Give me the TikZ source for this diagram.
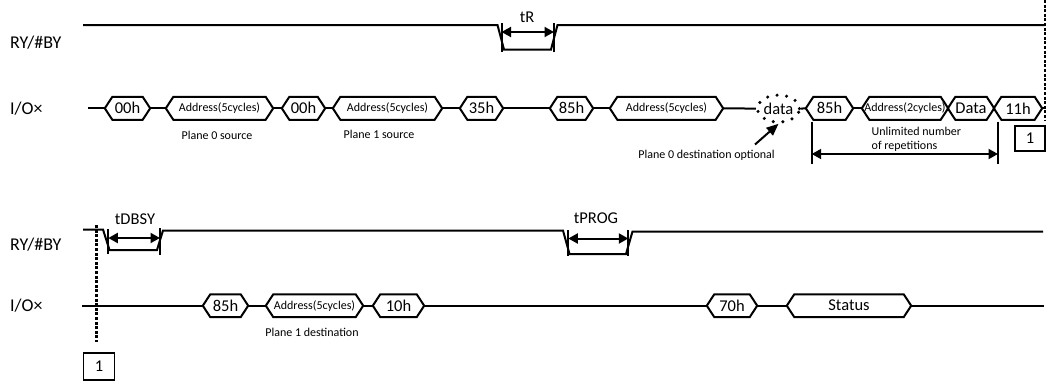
\documentclass[tikz,border=0pt]{standalone}
\usepackage{fontspec}
\setmainfont{Carlito}
\usetikzlibrary{arrows.meta,shapes.geometric}
\newcommand\hexnode[6]{% name, x1, x2, y, fontcmd, text
  \node[hexlbl, font=#5, minimum width={(#3-#2)*1pt}] (#1) at ({(#2+#3)/2},#4) {#6};
  \draw[sig] (#1.west) -- ([xshift=\hextip]#1.north west) -- ([xshift=-\hextip]#1.north east)
    -- (#1.east) -- ([xshift=-\hextip]#1.south east) -- ([xshift=\hextip]#1.south west) -- cycle;}
\newcommand\hextip{7.5pt}
\newcommand\fbig{\fontsize{18}{21}\selectfont}
\newcommand\fmid{\fontsize{16.5}{19}\selectfont}
\newcommand\fsmall{\fontsize{12}{14.5}\selectfont}
\begin{document}
\begin{tikzpicture}[x=1pt,y=-1pt,
  sig/.style={line width=2pt, line join=miter},
  hexlbl/.style={inner sep=0pt, minimum height=22.5pt, anchor=center},
  tick/.style={line width=2pt},
  dim/.style={line width=2pt, {Triangle[length=9.5pt,width=10pt]}-{Triangle[length=9.5pt,width=10pt]}},
  dotv/.style={line width=2.8pt, dash pattern=on 3pt off 1.6pt},
  lbl/.style={inner sep=0pt, font=\fbig, anchor=west},
  note/.style={inner sep=0pt, font=\fsmall},
  boxn/.style={draw, line width=1.5pt, inner sep=0pt, font=\fmid}
]
\useasboundingbox (0,0) rectangle (1050,381);

% ---------- top section ----------
\node[lbl] (ry1) at (10,43) {RY/\#BY};
\node[lbl] (io1) at (10,108.5) {I/O×};

\draw[sig] (83,25) -- (497.5,25) -- (504,49.5) -- (551,49.5) -- (557.5,25) -- (1045,25);
\coordinate (tra) at (501.5,32);
\coordinate (trb) at (554,32);
\draw[tick] (501.5,23) -- (501.5,52);
\draw[tick] (554,23) -- (554,52);
\draw[dim] (tra) -- (trb);
\node[font=\fmid, inner sep=0pt] (tR) at (527,17) {tR};

\coordinate (s1) at (88,108.3);
\hexnode{h00a}{105}{150}{108.3}{\fmid}{00h}
\hexnode{ad1}{166}{273}{108.3}{\fsmall}{Address(5cycles)}
\hexnode{h00b}{282}{325}{108.3}{\fmid}{00h}
\hexnode{ad2}{333}{442}{108.3}{\fsmall}{Address(5cycles)}
\hexnode{h35}{460}{503}{108.3}{\fmid}{35h}
\hexnode{h85a}{550}{593}{108.3}{\fmid}{85h}
\hexnode{ad3}{610}{723}{108.3}{\fsmall}{Address(5cycles)}
\node[ellipse, draw, line width=3.4pt, line cap=round, dash pattern=on 0pt off 9.6pt,
      minimum width=35pt, minimum height=27pt, inner sep=0pt, font=\fmid] (data) at (778.5,108.6) {data};
\hexnode{h85b}{806}{853}{108.3}{\fmid}{85h}
\hexnode{ad4}{862}{948}{108.3}{\fsmall}{Address(2cycles)}
\hexnode{dat}{948}{994}{108.3}{\fmid}{Data}
\hexnode{h11}{994}{1042}{108.3}{\fmid}{11h}
\coordinate (e1) at (1045,108.3);

\draw[sig] (s1) -- (h00a.west);
\draw[sig] (h00a.east) -- (ad1.west);
\draw[sig] (ad1.east) -- (h00b.west);
\draw[sig] (h00b.east) -- (ad2.west);
\draw[sig] (ad2.east) -- (h35.west);
\draw[sig] (h35.east) -- (h85a.west);
\draw[sig] (h85a.east) -- (ad3.west);
\draw[sig] (ad3.east) -- (data.west);
\draw[sig] (data.east) -- (h85b.west);
\draw[sig] (h85b.east) -- (ad4.west);
\draw[sig] (h11.east) -- (e1);

\node[note] (p0s) at (217,135) {Plane 0 source};
\node[note] (p1s) at (379,134.5) {Plane 1 source};
\node[note] (p0d) at (706.5,155.5) {Plane 0 destination optional};
\coordinate (arrs) at (755,144.5);
\draw[line width=2pt, -{Triangle[length=12pt,width=10pt]}] (arrs) -- (data.south);

\coordinate (ula) at (811.7,154);
\coordinate (ulb) at (998,154);
\draw[tick] (811.7,121.5) -- (811.7,163.5);
\draw[tick] (998,121.5) -- (998,163.5);
\draw[dim] (ula) -- (ulb);
\node[note, anchor=west, align=left] (unl) at (871.5,139.3) {Unlimited number\\of repetitions};

\node[boxn, minimum width=30pt, minimum height=25pt] (one1) at (1030,138.5) {1};
\coordinate (d1t) at (1045,0);
\coordinate (d1b) at (1045,121);
\draw[dotv] (d1t) -- (d1b);

% ---------- bottom section ----------
\node[lbl] (ry2) at (10,245) {RY/\#BY};
\node[lbl] (io2) at (10,306) {I/O×};

\draw[sig] (83,229.5) -- (103,229.5) -- (109.5,250) -- (157,250) -- (163,230.5) -- (563,230.5)
  -- (569.5,254) -- (626,254) -- (632.5,231.5) -- (1043,231.5);
\coordinate (dba) at (108.3,238);
\coordinate (dbb) at (160,238);
\draw[tick] (108.3,229) -- (108.3,254);
\draw[tick] (160,228) -- (160,255);
\draw[dim] (dba) -- (dbb);
\node[font=\fmid, inner sep=0pt] (tD) at (135,219) {tDBSY};

\coordinate (tpa) at (568.3,238.5);
\coordinate (tpb) at (628.3,238.5);
\draw[tick] (568.3,230) -- (568.3,256);
\draw[tick] (628.3,230) -- (628.3,256);
\draw[dim] (tpa) -- (tpb);
\node[font=\fmid, inner sep=0pt] (tP) at (596,218) {tPROG};

\coordinate (s2) at (82,305.7);
\hexnode{b85}{203}{248}{305.7}{\fmid}{85h}
\hexnode{bad}{266}{363}{305.7}{\fsmall}{Address(5cycles)}
\hexnode{b10}{373}{424}{305.7}{\fmid}{10h}
\hexnode{b70}{707}{757}{305.7}{\fmid}{70h}
\hexnode{bst}{787}{911}{305.7}{\fmid}{Status}
\coordinate (e2) at (1044,305.7);

\draw[sig] (s2) -- (b85.west);
\draw[sig] (b85.east) -- (bad.west);
\draw[sig] (bad.east) -- (b10.west);
\draw[sig] (b10.east) -- (b70.west);
\draw[sig] (b70.east) -- (bst.west);
\draw[sig] (bst.east) -- (e2);

\node[note] (p1d) at (312,332) {Plane 1 destination};

\coordinate (d2t) at (96.7,225);
\coordinate (d2b) at (96.7,342);
\draw[dotv] (d2t) -- (d2b);
\node[boxn, minimum width=31pt, minimum height=27pt] (one2) at (99,366.3) {1};
\end{tikzpicture}
\end{document}
